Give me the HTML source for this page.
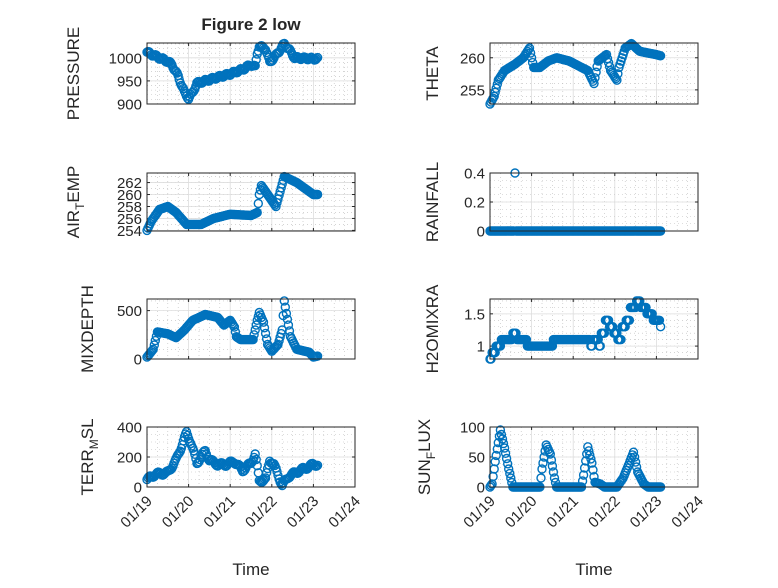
<!DOCTYPE html>
<html><head><meta charset="utf-8"><style>
body{margin:0;background:#fff}
svg text{font-family:"Liberation Sans","DejaVu Sans",sans-serif;fill:#262626}
</style></head><body>
<svg id="s" width="778" height="583" xmlns="http://www.w3.org/2000/svg"></svg>
<script>
const S=document.getElementById('s');let h='';
function lin(k,t){if(t<=k[0][0])return k[0][1];for(let i=1;i<k.length;i++){if(t<=k[i][0]){const a=k[i-1],b=k[i];return a[1]+(b[1]-a[1])*(t-a[0])/(b[0]-a[0]);}}return k[k.length-1][1];}
function step(k,t){let v=k[0][1];for(const p of k){if(t>=p[0])v=p[1];}return v;}
const P={
pres:[[0,1012],[0.3,1000],[0.5,992],[0.6,985],[0.75,960],[0.9,925],[1.0,912],[1.1,925],[1.2,945],[1.4,950],[1.7,958],[2.0,965],[2.3,975],[2.5,985],[2.6,980],[2.65,1010],[2.7,1025],[2.85,1020],[2.95,990],[3.1,1005],[3.3,1030],[3.4,1020],[3.55,1000],[4.0,998],[4.1,998]],
air:[[0,254],[0.1,255.5],[0.3,257.5],[0.5,258],[0.7,257],[0.95,255],[1.3,255],[1.6,256],[2,256.7],[2.5,256.5],[2.65,257],[2.7,260],[2.75,261.5],[2.9,260],[3.1,258],[3.2,260.5],[3.3,263],[3.6,262],[4,260],[4.1,260]],
mix:[[0,20],[0.15,100],[0.25,280],[0.5,260],[0.7,220],[0.9,300],[1.1,400],[1.4,460],[1.7,430],[1.85,350],[2.0,400],[2.1,330],[2.15,230],[2.25,200],[2.55,200],[2.65,400],[2.7,480],[2.8,380],[2.9,150],[3.0,80],[3.15,150],[3.25,300],[3.3,600],[3.35,470],[3.45,230],[3.6,100],[3.9,70],[4.0,20],[4.1,30]],
terr:[[0,50],[0.2,85],[0.5,95],[0.7,180],[0.8,250],[0.95,360],[1.05,300],[1.2,160],[1.4,240],[1.5,180],[1.7,150],[1.9,150],[2.1,170],[2.3,110],[2.5,160],[2.6,220],[2.7,40],[2.85,50],[2.95,180],[3.05,150],[3.25,10],[3.4,70],[3.6,100],[4.0,150],[4.1,150]],
theta:[[0,252.8],[0.1,254],[0.2,256.5],[0.35,258],[0.6,259],[0.8,260],[0.95,261.5],[1.05,258.5],[1.2,258.5],[1.4,259.5],[1.6,260],[1.9,259.5],[2.2,258.5],[2.35,258],[2.5,256],[2.6,259.5],[2.8,260.5],[2.9,258],[3.05,256.5],[3.1,258.5],[3.25,261.5],[3.4,262.2],[3.6,261],[4.0,260.5],[4.1,260.3]],
sun:[[0,0],[0.05,5],[0.12,40],[0.25,95],[0.35,65],[0.45,30],[0.55,0],[1.2,0],[1.25,30],[1.35,70],[1.45,55],[1.55,15],[1.6,0],[2.2,0],[2.25,20],[2.35,67],[2.45,40],[2.52,8],[2.65,5],[2.75,0],[3.05,0],[3.2,15],[3.35,40],[3.45,58],[3.55,25],[3.7,5],[3.8,0],[4.1,0]]
};
const H2O=[[0,0.8],[0.05,0.9],[0.15,1.0],[0.25,1.1],[0.55,1.2],[0.65,1.1],[0.88,1.0],[1.5,1.1],[2.4,1.0],[2.45,1.1],[2.6,1.0],[2.65,1.2],[2.75,1.4],[2.85,1.3],[2.95,1.2],[3.05,1.1],[3.15,1.3],[3.25,1.4],[3.35,1.6],[3.5,1.7],[3.6,1.6],[3.75,1.5],[3.9,1.4],[4.08,1.3]];
function fmt(v){return (Math.round(v*10)/10).toString();}
function ax(x0,y0,w,hh,y1,y2,ticks,minor,lab,fn,xl){
  const X=t=>x0+t*w/5,Y=v=>y0+hh-(v-y1)/(y2-y1)*hh;
  h+=`<rect x="${x0}" y="${y0}" width="${w}" height="${hh}" fill="#fff"/>`;
  for(let d=0;d<=5;d+=0.25){const x=X(d);if(d%1)h+=`<line x1="${x}" y1="${y0}" x2="${x}" y2="${y0+hh}" stroke="#bbb" stroke-width="0.6" stroke-dasharray="1,3"/>`;else h+=`<line x1="${x}" y1="${y0}" x2="${x}" y2="${y0+hh}" stroke="#ddd" stroke-width="0.8"/>`;}
  for(let v=minor[0];v<=y2+1e-9;v+=minor[1]){const y=Y(v);if(y<y0||y>y0+hh)continue;h+=`<line x1="${x0}" y1="${y}" x2="${x0+w}" y2="${y}" stroke="#bbb" stroke-width="0.6" stroke-dasharray="1,3"/>`;}
  for(const v of ticks){const y=Y(v);h+=`<line x1="${x0}" y1="${y}" x2="${x0+w}" y2="${y}" stroke="#ddd" stroke-width="0.8"/><line x1="${x0}" y1="${y}" x2="${x0+3}" y2="${y}" stroke="#262626"/><line x1="${x0+w}" y1="${y}" x2="${x0+w-3}" y2="${y}" stroke="#262626"/><text x="${x0-5}" y="${y+5.5}" font-size="15" text-anchor="end">${fmt(v)}</text>`;}
  for(let d=0;d<=5;d++){const x=X(d);h+=`<line x1="${x}" y1="${y0}" x2="${x}" y2="${y0+3}" stroke="#262626"/><line x1="${x}" y1="${y0+hh}" x2="${x}" y2="${y0+hh-3}" stroke="#262626"/>`;
    if(xl)h+=`<text transform="translate(${x+6},${y0+hh+15}) rotate(-45)" font-size="15" text-anchor="end">01/${19+d}</text>`;}
  for(let t=0;t<=4.1;t+=1/40){const v=fn(t);h+=`<circle cx="${X(t).toFixed(1)}" cy="${Y(v).toFixed(1)}" r="4" fill="none" stroke="#0072BD" stroke-width="1.4"/>`;}
  h+=`<rect x="${x0}" y="${y0}" width="${w}" height="${hh}" fill="none" stroke="#262626" stroke-width="1"/>`;
  const lx=x0-(lab.off||0);
  h+=`<text transform="translate(${lx},${y0+hh/2}) rotate(-90)" font-size="17" text-anchor="middle">${lab.t}</text>`;
  if(xl)h+=`<text x="${x0+w/2}" y="575" font-size="17" text-anchor="middle">Time</text>`;
}
const L=147,R=490,W=208;
h+=`<text x="251" y="30" font-size="17" font-weight="bold" text-anchor="middle">Figure 2 low</text>`;
ax(L,43,W,61,900,1032,[900,950,1000],[900,10],{t:'PRESSURE',off:68},t=>lin(P.pres,t)+(Math.sin(t*37)*3));
ax(L,173,W,58,253.9,263.6,[254,256,258,260,262],[254,1],{t:'AIR<tspan font-size="12" dy="5">T</tspan><tspan dy="-5">EMP</tspan>',off:68},t=>lin(P.air,t));
ax(L,299,W,60,0,620,[0,500],[0,100],{t:'MIXDEPTH',off:54},t=>lin(P.mix,t));
ax(L,427,W,60,0,400,[0,200,400],[0,50],{t:'TERR<tspan font-size="12" dy="5">M</tspan><tspan dy="-5">SL</tspan>',off:54},t=>Math.max(0,lin(P.terr,t)+Math.sin(t*29)*12),1);
ax(R,43,W,61,252.8,262.3,[255,260],[253,1],{t:'THETA',off:52},t=>lin(P.theta,t));
ax(R,173,W,58,0,0.4,[0,0.2,0.4],[0,0.05],{t:'RAINFALL',off:52},t=>Math.abs(t-0.6)<0.015?0.4:0);
ax(R,299,W,60,0.8,1.73,[1,1.5],[0.8,0.1],{t:'H2OMIXRA',off:52},t=>step(H2O,t));
ax(R,427,W,60,0,100,[0,50,100],[0,12.5],{t:'SUN<tspan font-size="12" dy="5">F</tspan><tspan dy="-5">LUX</tspan>',off:60},t=>lin(P.sun,t),1);
S.innerHTML=h;
</script>
</body></html>
